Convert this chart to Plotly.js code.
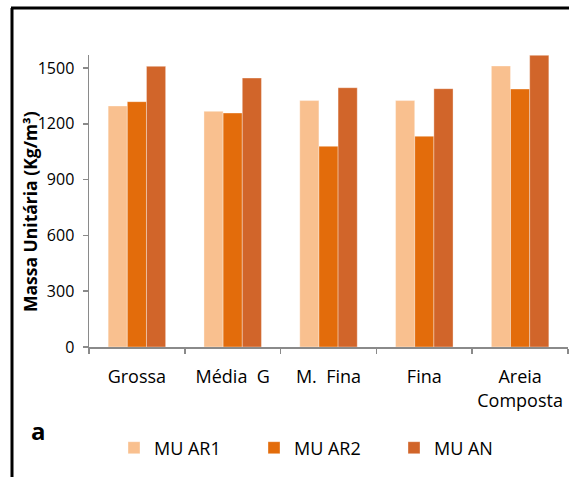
<!DOCTYPE html>
<html>
<head>
<meta charset="utf-8">
<script src="https://cdn.plot.ly/plotly-3.0.1.min.js"></script>
<style>html,body{margin:0;padding:0;background:#fff;}#chart{width:569px;height:477px;}</style>
</head>
<body>
<div id="chart"></div>
<script>
var categories = ["Grossa", "Média\u00a0\u00a0G", "M.\u00a0\u00a0Fina", "Fina", "Areia<br>Composta"];
var seriesNames = ["MU AR1", "MU AR2", "MU AN"];
var muAR1 = [1296, 1267, 1325, 1325, 1511];
var muAR2 = [1319, 1258, 1079, 1133, 1387];
var muAN  = [1509, 1446, 1394, 1389, 1568];
var yTicks = [0, 300, 600, 900, 1200, 1500];
var colors = ["#F9C08F", "#E36C0B", "#D1652A"];

var values = [muAR1, muAR2, muAN];
var traces = values.map(function (v, i) {
  return {
    type: "bar",
    name: seriesNames[i],
    x: categories,
    y: v,
    marker: { color: colors[i], line: { color: "rgba(255,255,255,0.35)", width: 1 } },
    hoverinfo: "x+y+name"
  };
});

// plot geometry (pixels) used to place frame and labels
var W = 569, H = 477, L = 89, R = 1, T = 55, B = 130;
var pw = W - L - R, ph = H - T - B;
function px(x) { return (x - L) / pw; }
function py(y) { return (H - B - y) / ph; }

var layout = {
  width: W, height: H,
  margin: { l: L, r: R, t: T, b: B, pad: 0 },
  paper_bgcolor: "#ffffff",
  plot_bgcolor: "#ffffff",
  font: { family: "Open Sans, sans-serif", color: "#000000" },
  barmode: "group",
  bargap: 0.4,
  bargroupgap: 0,
  showlegend: true,
  legend: {
    orientation: "h",
    x: px(114), xanchor: "left",
    y: py(448), yanchor: "middle",
    entrywidth: 95, entrywidthmode: "pixels",
    font: { size: 18, color: "#000000" },
    bgcolor: "rgba(0,0,0,0)"
  },
  xaxis: {
    type: "category",
    range: [-0.5, 4.5],
    showline: true, linecolor: "#8a8a8a", linewidth: 1.5,
    ticks: "outside", tickson: "boundaries", ticklen: 5, tickcolor: "#8a8a8a", tickwidth: 1.5,
    ticklabelstandoff: 13,
    showgrid: false, zeroline: false,
    tickfont: { size: 18, color: "#000000" },
    fixedrange: true
  },
  yaxis: {
    range: [0, 1570],
    tickvals: yTicks,
    ticktext: yTicks.map(String),
    showline: true, linecolor: "#8a8a8a", linewidth: 1.5,
    ticks: "outside", ticklen: 5, tickcolor: "#8a8a8a", tickwidth: 1.5,
    ticklabelstandoff: 5,
    showgrid: false, zeroline: false,
    tickfont: { size: 16, color: "#000000" },
    fixedrange: true
  },
  annotations: [
    {
      text: "<b>Massa Unitária (Kg/m³)</b>",
      xref: "paper", yref: "paper",
      x: px(30), y: py(212),
      xanchor: "center", yanchor: "middle",
      textangle: -90, showarrow: false,
      font: { size: 17.5, color: "#000000" }
    },
    {
      text: "<b>a</b>",
      xref: "paper", yref: "paper",
      x: px(38), y: py(430),
      xanchor: "center", yanchor: "middle",
      showarrow: false,
      font: { size: 24, color: "#000000" }
    }
  ],
  shapes: [
    { type: "line", xref: "paper", yref: "paper", x0: px(12), x1: px(12), y0: py(8), y1: py(480),
      line: { color: "#000000", width: 3 } },
    { type: "line", xref: "paper", yref: "paper", x0: px(11), x1: px(572), y0: py(8), y1: py(8),
      line: { color: "#000000", width: 3 } }
  ]
};

Plotly.newPlot("chart", traces, layout, { displayModeBar: false, staticPlot: true });
</script>
</body>
</html>
